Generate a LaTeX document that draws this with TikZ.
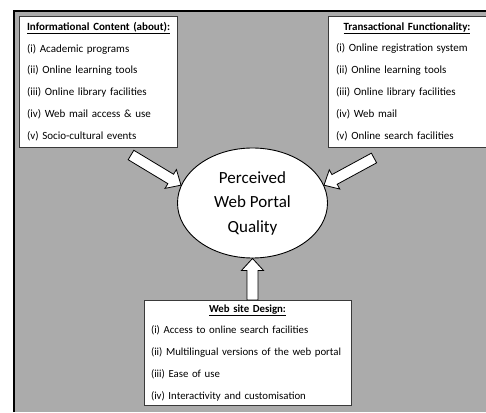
\documentclass[tikz,border=0pt]{standalone}
\usepackage{fontspec}
\setmainfont{Carlito}
\usetikzlibrary{calc,shapes.geometric}
\setlength{\parindent}{0pt}
\definecolor{Canvas}{HTML}{ABABAB}
\definecolor{Frame}{HTML}{3A3A3A}
\tikzset{
  listbox/.style={rectangle,draw=Frame,line width=0.9pt,fill=white,inner xsep=8pt,inner ysep=4pt,
    font=\fontsize{11}{21.8}\selectfont},
  hub/.style={ellipse,draw=black,line width=0.9pt,fill=white,minimum width=150pt,minimum height=110pt,
    inner sep=0pt,align=center,font=\fontsize{17}{24.5}\selectfont},
  blockarrow/.style={draw=black,line width=0.8pt,fill=white,line join=miter},
}
\newcommand{\blockarrow}[2]{%
  \path let \p1=($(#2)-(#1)$) in \pgfextra{%
    \pgfmathsetmacro{\arrang}{atan2(\y1,\x1)}%
    \pgfmathsetmacro{\arrlen}{veclen(\x1,\y1)}%
    \global\let\arrang\arrang \global\let\arrlen\arrlen};
  \draw[blockarrow,shift={(#1)},rotate=\arrang]
    (0,-5.5) -- (\arrlen-12,-5.5) -- (\arrlen-12,-11) -- (\arrlen,0)
    -- (\arrlen-12,11) -- (\arrlen-12,5.5) -- (0,5.5) -- cycle;
}

\begin{document}
\begin{tikzpicture}[x=1pt,y=1pt]
    \useasboundingbox (0,0) rectangle (486,412);
    \clip (0,0) rectangle (486,412);
    \fill[white] (0,0) rectangle (486,412);
    \fill[Canvas] (14,0) rectangle (486,401);
    \draw[black,line width=2pt] (14,0) -- (14,401) -- (487,401);

    \node[listbox,text width=142pt,minimum height=131pt] (info) at (98,330.5) {%
      {\centering\underline{\textbf{Informational Content (about):}}\par}\raggedright
      (i) Academic programs\\(ii) Online learning tools\\(iii) Online library facilities\\
      (iv) Web mail access \& use\\(v) Socio-cultural events};
    \node[listbox,text width=142pt,minimum height=131pt] (trans) at (407,330.5) {%
      {\centering\underline{\textbf{Transactional Functionality:}}\par}\raggedright
      (i) Online registration system\\(ii) Online learning tools\\(iii) Online library facilities\\
      (iv) Web mail\\(v) Online search facilities};
    \node[listbox,text width=193pt,inner xsep=7pt,anchor=north,font=\fontsize{10.8}{21.8}\selectfont]
      (design) at (247.5,112) {%
      {\centering\underline{\textbf{Web site Design:}}\par}\raggedright
      (i) Access to online search facilities\\\mbox{(ii) Multilingual versions of the web portal}\\
      (iii) Ease of use\\(iv) Interactivity and customisation\par\vspace*{16pt}};
    \node[hub] (perc) at (252.5,209) {Perceived\\Web Portal\\Quality};

    \coordinate (infoTail) at (131,257);
    \coordinate (transTail) at (374,254);
    \coordinate (designTop) at (design.north -| perc.south);
    \blockarrow{infoTail}{perc.166}
    \blockarrow{transTail}{perc.14}
    \blockarrow{designTop}{perc.south}
\end{tikzpicture}
\end{document}
